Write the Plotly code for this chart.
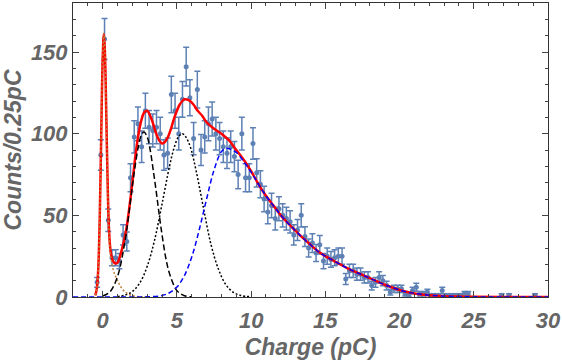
import plotly.graph_objects as go
import numpy as np

# Histogram bin centres (pC) and counts per 0.25 pC bin
charge = [-0.375, -0.125, 0.125, 0.375, 0.625, 0.875, 1.125, 1.375, 1.625, 1.875,
          2.125, 2.375, 2.625, 2.875, 3.125, 3.375, 3.625, 3.875, 4.125, 4.375,
          4.625, 4.875, 5.125, 5.375, 5.625, 5.875, 6.125, 6.375, 6.625, 6.875,
          7.125, 7.375, 7.625, 7.875, 8.125, 8.375, 8.625, 8.875, 9.125, 9.375,
          9.625, 9.875, 10.125, 10.375, 10.625, 10.875, 11.125, 11.375, 11.625, 11.875,
          12.125, 12.375, 12.625, 12.875, 13.125, 13.375, 13.625, 13.875, 14.125, 14.375,
          14.625, 14.875, 15.125, 15.375, 15.625, 15.875, 16.125, 16.375, 16.625, 16.875,
          17.125, 17.375, 17.625, 17.875, 18.125, 18.375, 18.625, 18.875, 19.125, 19.375,
          19.625, 19.875, 20.125, 20.375, 20.625, 20.875, 21.125, 21.375, 21.625, 21.875,
          22.125, 22.375, 22.625, 22.875, 23.125, 23.375, 23.625, 23.875, 24.125, 24.375,
          24.625, 26.875, 27.375, 29.125]
counts = [9, 87, 158, 47, 24, 24, 22, 38, 34, 73,
          98, 106, 92, 114, 104, 102, 104, 100, 87, 88,
          124, 114, 100, 121, 141, 122, 97, 127, 90, 98,
          106, 109, 100, 97, 92, 88, 92, 86, 75, 100,
          73, 73, 94, 76, 69, 60, 52, 56, 48, 54,
          50, 48, 46, 38, 41, 50, 37, 30, 33, 27,
          32, 22, 25, 23, 24, 25, 25, 11, 16, 16,
          14, 14, 12, 12, 7, 9, 12, 10, 7, 3,
          5, 5, 5, 2, 1, 4, 6, 2, 2, 3,
          1, 1, 1, 4, 1, 1, 1, 1, 1, 2,
          2, 1, 1, 1]
errors = np.sqrt(counts)  # Poisson error bars

# Total fit (red)
fit_x = [-0.5, -0.4, -0.3, -0.2, -0.1, 0.0, 0.08, 0.15, 0.25, 0.35, 0.45, 0.55, 0.7, 0.85, 1.0,
         1.2, 1.4, 1.6, 1.8, 2.0, 2.2, 2.4, 2.6, 2.8, 3.0, 3.2, 3.4, 3.6, 3.8, 4.0,
         4.2, 4.4, 4.6, 4.8, 5.0, 5.2, 5.5, 5.8, 6.1, 6.4, 6.7, 7.0, 7.5, 8.0, 8.5,
         9.0, 9.5, 10.0, 10.5, 11.0, 11.5, 12.0, 12.5, 13.0, 13.5, 14.0, 14.5, 15.0, 15.5, 16.0,
         16.5, 17.0, 17.5, 18.0, 18.5, 19.0, 19.5, 20.0, 20.5, 21.0, 22.0, 23.0, 24.0, 25.0, 27.0, 30.0]
fit_y = [1, 5, 17, 48, 98, 146, 161, 150, 108, 63, 37, 27, 22, 20.5, 21,
         26, 33, 42, 55, 70, 86, 99, 108, 113, 114, 111, 106, 100, 96, 94,
         95, 98, 103, 109, 114, 118, 121, 120.5, 118, 114, 111, 107, 103, 100, 96,
         90, 84, 77, 69, 62, 56, 50, 45, 40.5, 36, 32, 28, 25, 22.5, 20,
         17.5, 15.5, 13.5, 11.5, 9.5, 7.5, 5.8, 4.3, 3.1, 2.2, 1.1, 0.5, 0.25, 0.1, 0.02, 0]

# Pedestal component (orange dotted)
ped_x = [-0.5, -0.4, -0.3, -0.2, -0.1, 0.0, 0.08, 0.15, 0.25, 0.35, 0.45, 0.55,
         0.7, 0.85, 1.0, 1.2, 1.4, 1.6, 1.8, 2.0, 2.3, 2.6, 3.0]
ped_y = [1, 5, 17, 48, 98, 146, 161, 150, 108, 62, 35, 24,
         17, 13, 10, 6.5, 4, 2.5, 1.5, 0.8, 0.3, 0.1, 0]

# First photo-electron peak (black dashed)
pe1_x = [0, 0.5, 1.0, 1.5, 1.75, 2.0, 2.2, 2.4, 2.6, 2.78, 3.0,
         3.2, 3.4, 3.6, 3.8, 4.0, 4.25, 4.5, 5.0, 5.5, 6.0]
pe1_y = [0.6, 3.3, 12.5, 34, 50, 68, 81, 92, 99, 101, 98,
         90, 78, 65, 51, 38, 24, 14.4, 3.9, 0.8, 0.1]

# Second peak (black dotted)
pe2_x = [1.0, 1.5, 2.0, 2.5, 3.0, 3.5, 4.0, 4.5, 4.8, 5.1, 5.36,
         5.6, 5.9, 6.3, 6.8, 7.3, 7.8, 8.3, 8.8, 9.3, 10.0]
pe2_y = [0.3, 1.1, 3.4, 8.6, 18.8, 35, 57, 80, 91, 98, 100,
         98, 92, 77, 54, 32, 17, 7.5, 2.9, 0.95, 0.15]

# Broad tail component (blue dashed)
tail_x = [-2, 0, 2, 3, 4, 4.5, 5, 5.5, 6, 6.5, 7, 7.5, 8, 8.3, 8.6,
          9.0, 9.5, 10, 10.5, 11, 11.5, 12, 12.5, 13, 13.5, 14, 14.5, 15, 15.5, 16,
          16.5, 17, 17.5, 18, 18.5, 19, 19.5, 20, 20.5, 21, 22, 23, 24, 25, 27, 30]
tail_y = [0, 0, 0, 0.1, 0.9, 2.6, 6.1, 13, 24.5, 41, 60, 77.7, 89, 91, 90.5,
          88.5, 83, 76.5, 69, 62, 56, 50, 45, 40.5, 36, 32, 28, 25, 22.5, 20,
          17.5, 15.5, 13.5, 11.5, 9.5, 7.5, 5.8, 4.3, 3.1, 2.2, 1.1, 0.5, 0.25, 0.1, 0.02, 0]

data_color = "#5E81B5"
label_font = dict(family = "Liberation Sans", size = 22, color = "#666666", weight = "bold", style = "italic")
title_font = dict(family = "Liberation Sans", size = 23, color = "#666666", weight = "bold", style = "italic")

fig = go.Figure()

# Data with error bars
fig.add_trace(go.Scatter(
    x = charge, y = counts, mode = "markers",
    marker = dict(size = 5, color = data_color),
    error_y = dict(type = "data", array = errors, color = data_color, thickness = 1.5, width = 3),
))

# Fit curves
fig.add_trace(go.Scatter(x = fit_x, y = fit_y, mode = "lines", line = dict(color = "red", width = 2.5, shape = "spline")))
fig.add_trace(go.Scatter(x = ped_x, y = ped_y, mode = "lines", line = dict(color = "#c0803a", width = 1.5, dash = "2px,2px", shape = "spline")))
fig.add_trace(go.Scatter(x = pe1_x, y = pe1_y, mode = "lines", line = dict(color = "black", width = 1.5, dash = "6px,3px", shape = "spline")))
fig.add_trace(go.Scatter(x = pe2_x, y = pe2_y, mode = "lines", line = dict(color = "black", width = 1.5, dash = "2px,2px", shape = "spline")))
fig.add_trace(go.Scatter(x = tail_x, y = tail_y, mode = "lines", line = dict(color = "blue", width = 1.5, dash = "5px,3px", shape = "spline")))

axis_common = dict(
    showgrid = False, zeroline = False, automargin = False,
    showline = True, linecolor = "#333333", linewidth = 1, mirror = "allticks",
    ticks = "inside", ticklen = 6, tickcolor = "#444444",
    tickfont = label_font,
)

fig.update_layout(
    width = 562, height = 360,
    margin = dict(l = 73, r = 14, t = 3, b = 63),
    paper_bgcolor = "white", plot_bgcolor = "white",
    showlegend = False,
    xaxis = dict(range = [-2, 30], tick0 = 0, dtick = 5,
                 minor = dict(dtick = 1, ticklen = 3, ticks = "inside", tickcolor = "#444444"),
                 ticklabelstandoff = 4,
                 title = dict(text = "Charge (pC)", font = title_font, standoff = 8),
                 **axis_common),
    yaxis = dict(range = [0, 180], tick0 = 0, dtick = 50,
                 minor = dict(dtick = 10, ticklen = 3, ticks = "inside", tickcolor = "#444444"),
                 ticklabelstandoff = 0,
                 title = dict(text = "Counts/0.25pC", font = title_font, standoff = 6),
                 **axis_common),
)

# remove the page's default body margin so the figure sits at the window origin
fig.write_html("out.html", config = dict(displayModeBar = False),
               post_script = "document.body.style.margin = '0';")
